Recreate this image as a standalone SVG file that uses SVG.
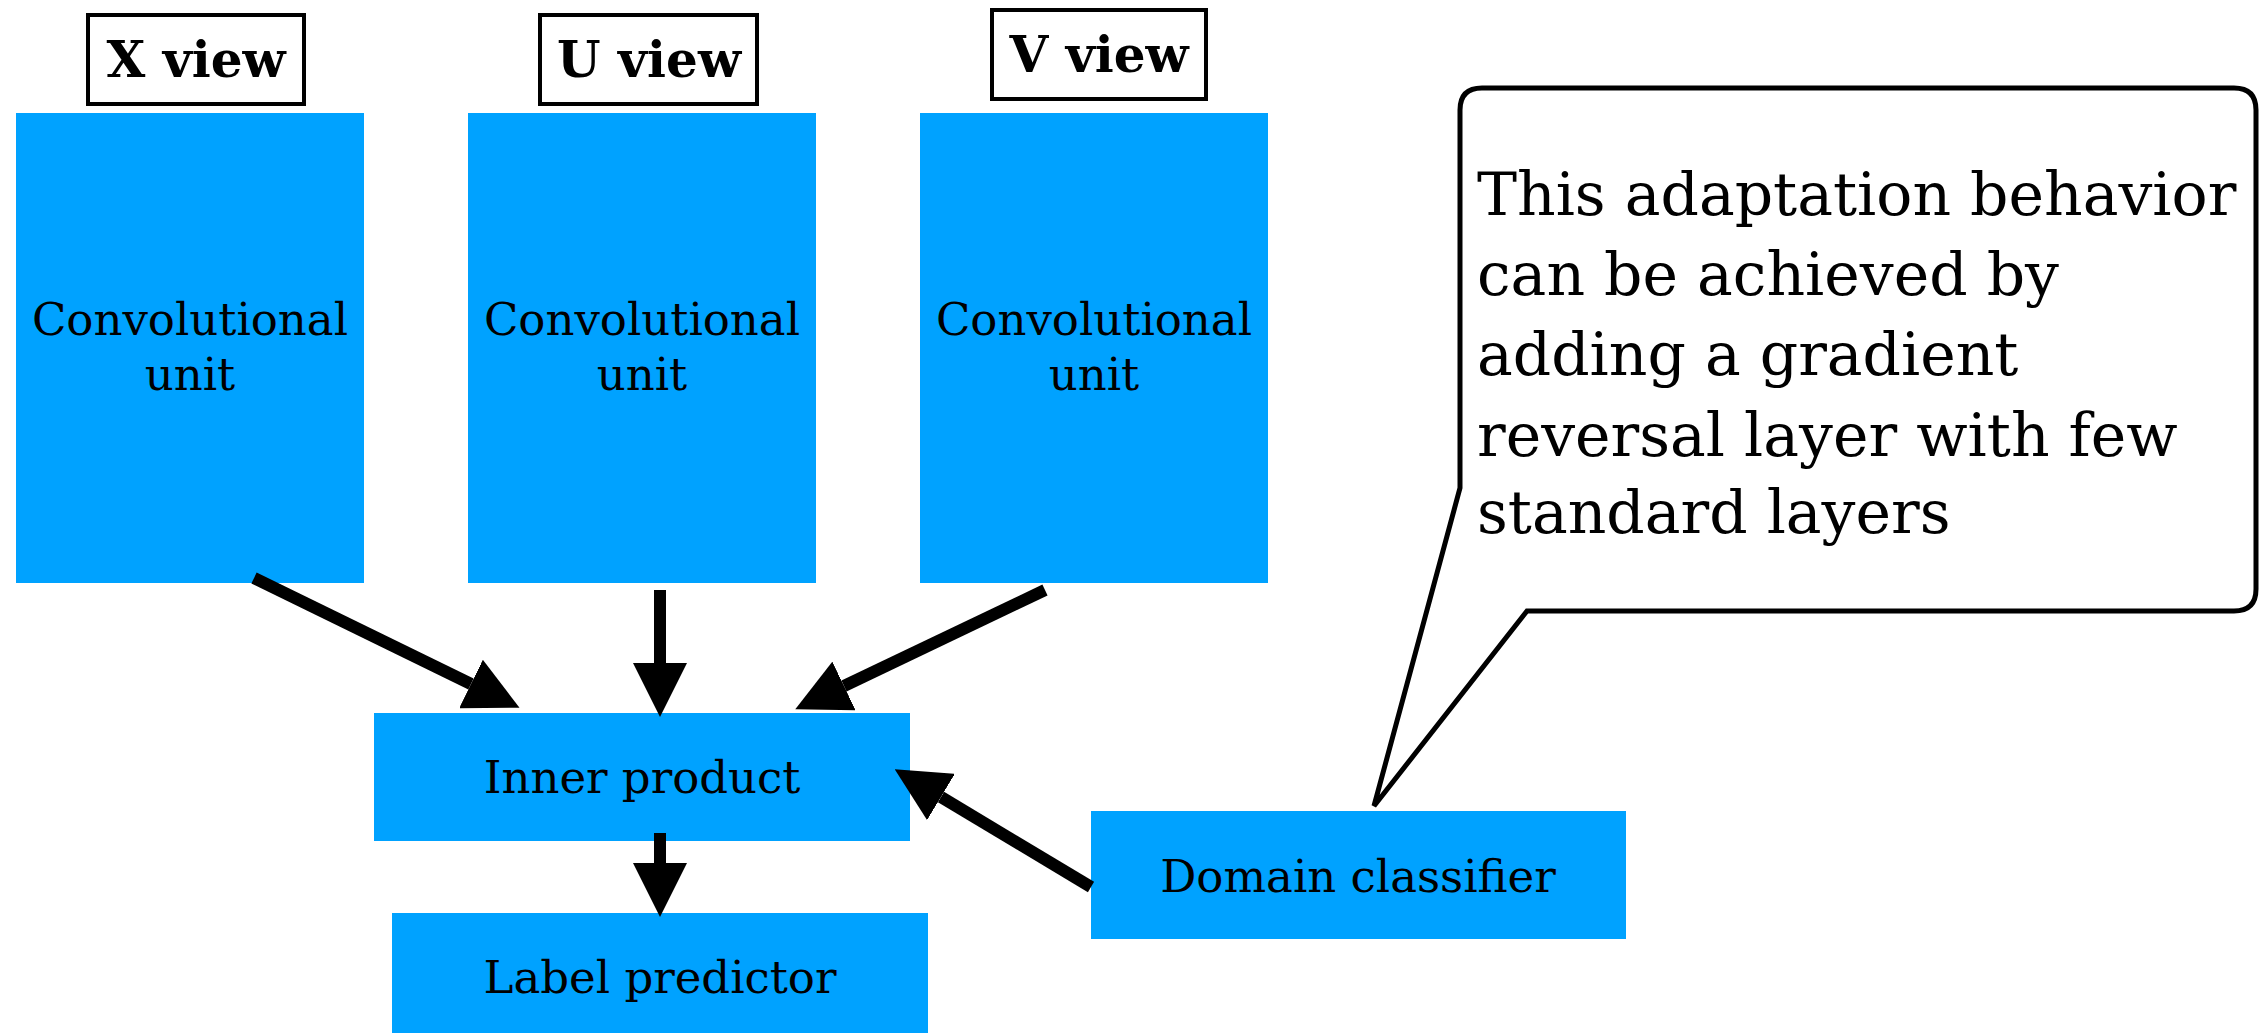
<svg xmlns="http://www.w3.org/2000/svg" width="2260" height="1033" viewBox="0 0 2260 1033">
<style>
.blk{fill:#00A2FF}
.lbl{font-family:"DejaVu Serif","Liberation Serif",serif;font-size:45px;fill:#000;text-anchor:middle}
.view{fill:#fff;stroke:#000;stroke-width:4}
.vt{font-family:"DejaVu Serif","Liberation Serif",serif;font-weight:bold;font-size:50px;fill:#000;text-anchor:middle}
.conn{stroke:#000;stroke-width:12;fill:none;marker-end:url(#ah)}
.note{font-family:"DejaVu Serif","Liberation Serif",serif;font-size:60px;fill:#000}
</style>
<defs>
<marker id="ah" viewBox="0 0 54 54" refX="0" refY="27" markerWidth="54" markerHeight="54" markerUnits="userSpaceOnUse" orient="auto">
<path d="M0,0 L54,27 L0,54 z" fill="#000"/>
</marker>
</defs>
<rect width="2260" height="1033" fill="#fff"/>
<g id="xview"><rect class="view" x="88" y="15" width="216" height="89"/><text class="vt" x="196" y="77">X view</text></g>
<g id="uview"><rect class="view" x="540" y="15" width="217" height="89"/><text class="vt" x="649" y="77">U view</text></g>
<g id="vview"><rect class="view" x="992" y="10" width="214" height="89"/><text class="vt" x="1099" y="72">V view</text></g>
<g id="convx"><rect class="blk" x="16" y="113" width="348" height="470"/><text class="lbl" x="190" y="335">Convolutional</text><text class="lbl" x="190" y="390">unit</text></g>
<g id="convu"><rect class="blk" x="468" y="113" width="348" height="470"/><text class="lbl" x="642" y="335">Convolutional</text><text class="lbl" x="642" y="390">unit</text></g>
<g id="convv"><rect class="blk" x="920" y="113" width="348" height="470"/><text class="lbl" x="1094" y="335">Convolutional</text><text class="lbl" x="1094" y="390">unit</text></g>
<g id="inner"><rect class="blk" x="374" y="713" width="536" height="128"/><text class="lbl" x="642" y="793">Inner product</text></g>
<g id="label"><rect class="blk" x="392" y="913" width="536" height="120"/><text class="lbl" x="660" y="993">Label predictor</text></g>
<g id="domain"><rect class="blk" x="1091" y="811" width="535" height="128"/><text class="lbl" x="1358" y="892">Domain classifier</text></g>
<g id="callout">
<path d="M1460,110 L1460,488 L1374,806 L1527,611 L2234,611 Q2256,611 2256,589 L2256,110 Q2256,88 2234,88 L1482,88 Q1460,88 1460,110 Z" fill="#fff" stroke="#000" stroke-width="5" stroke-linejoin="miter"/>
<text class="note" x="1477" y="215">This adaptation behavior</text>
<text class="note" x="1477" y="295">can be achieved by</text>
<text class="note" x="1477" y="375">adding a gradient</text>
<text class="note" x="1477" y="456">reversal layer with few</text>
<text class="note" x="1477" y="533">standard layers</text>
</g>
<g id="connectors">
<line class="conn" x1="254" y1="578" x2="471" y2="684"/>
<line class="conn" x1="660" y1="590" x2="660" y2="663"/>
<line class="conn" x1="1045" y1="590" x2="844" y2="686"/>
<line class="conn" x1="660" y1="833" x2="660" y2="863"/>
<line class="conn" x1="1091" y1="887" x2="941" y2="797"/>
</g>
</svg>
